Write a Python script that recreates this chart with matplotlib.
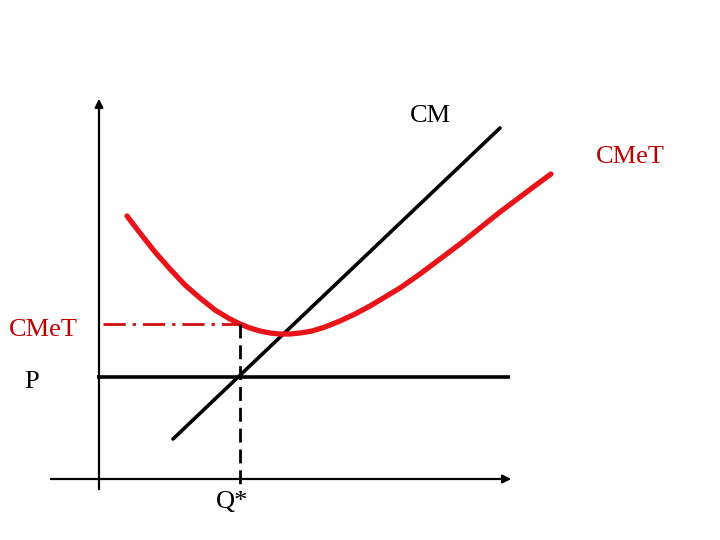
import matplotlib.pyplot as plt

# picture coordinates (pixels, y grows downward)
cm_x = [173, 500]
cm_y = [439, 128]

cmet_x = [127, 140, 155, 170, 185, 200, 215, 230, 240, 250, 260, 270, 280, 290, 300, 312,
          325, 340, 355, 370, 385, 400, 420, 440, 460, 480, 500, 520, 536, 551]
cmet_y = [216, 233, 252, 269, 285, 298, 310, 319, 324, 328, 331, 333, 334, 334, 333, 331,
          327, 321, 314, 306, 297, 288, 274, 259, 244, 228, 212, 197, 185, 174]

p_level = 377
p_x = [97, 510]
q_star = 240
cmet_min_level = 324

labels = ["CM", "CMeT", "CMeT", "P", "Q*"]
label_x = [430, 630, 43, 32, 232]
label_y = [116, 157, 330, 382, 502]
label_colors = ["black", "#c00000", "#c00000", "black", "black"]

fig = plt.figure(figsize=(7.2, 5.4), dpi=100)
ax = fig.add_axes([0, 0, 1, 1])
ax.set_xlim(0, 720)
ax.set_ylim(540, 0)
ax.axis("off")

# axes with arrows
ax.annotate("", xy=(99, 96), xytext=(99, 492),
            arrowprops=dict(arrowstyle="-|>", color="black", lw=1.6, mutation_scale=12))
ax.annotate("", xy=(514, 479), xytext=(48, 479),
            arrowprops=dict(arrowstyle="-|>", color="black", lw=1.6, mutation_scale=12))

# price line and marginal cost
ax.plot(p_x, [p_level, p_level], color="black", lw=2.6, solid_capstyle="butt")
ax.plot(cm_x, cm_y, color="black", lw=2.6, solid_capstyle="round")

# average total cost curve
ax.plot(cmet_x, cmet_y, color="#e8141a", lw=3.8, solid_capstyle="round",
        solid_joinstyle="round")

# guides
ax.plot([103, q_star], [cmet_min_level, cmet_min_level], color="#d01010", lw=2.0,
        dashes=(8, 2.5, 1.2, 2.5))
ax.plot([q_star, q_star], [cmet_min_level, 492], color="black", lw=2.0, dashes=(5, 2.5))

for t, x, y, c in zip(labels, label_x, label_y, label_colors):
    ax.text(x, y, t, color=c, fontsize=19, family="Liberation Serif",
            ha="center", va="center")

fig.savefig("out.png", dpi=100)
